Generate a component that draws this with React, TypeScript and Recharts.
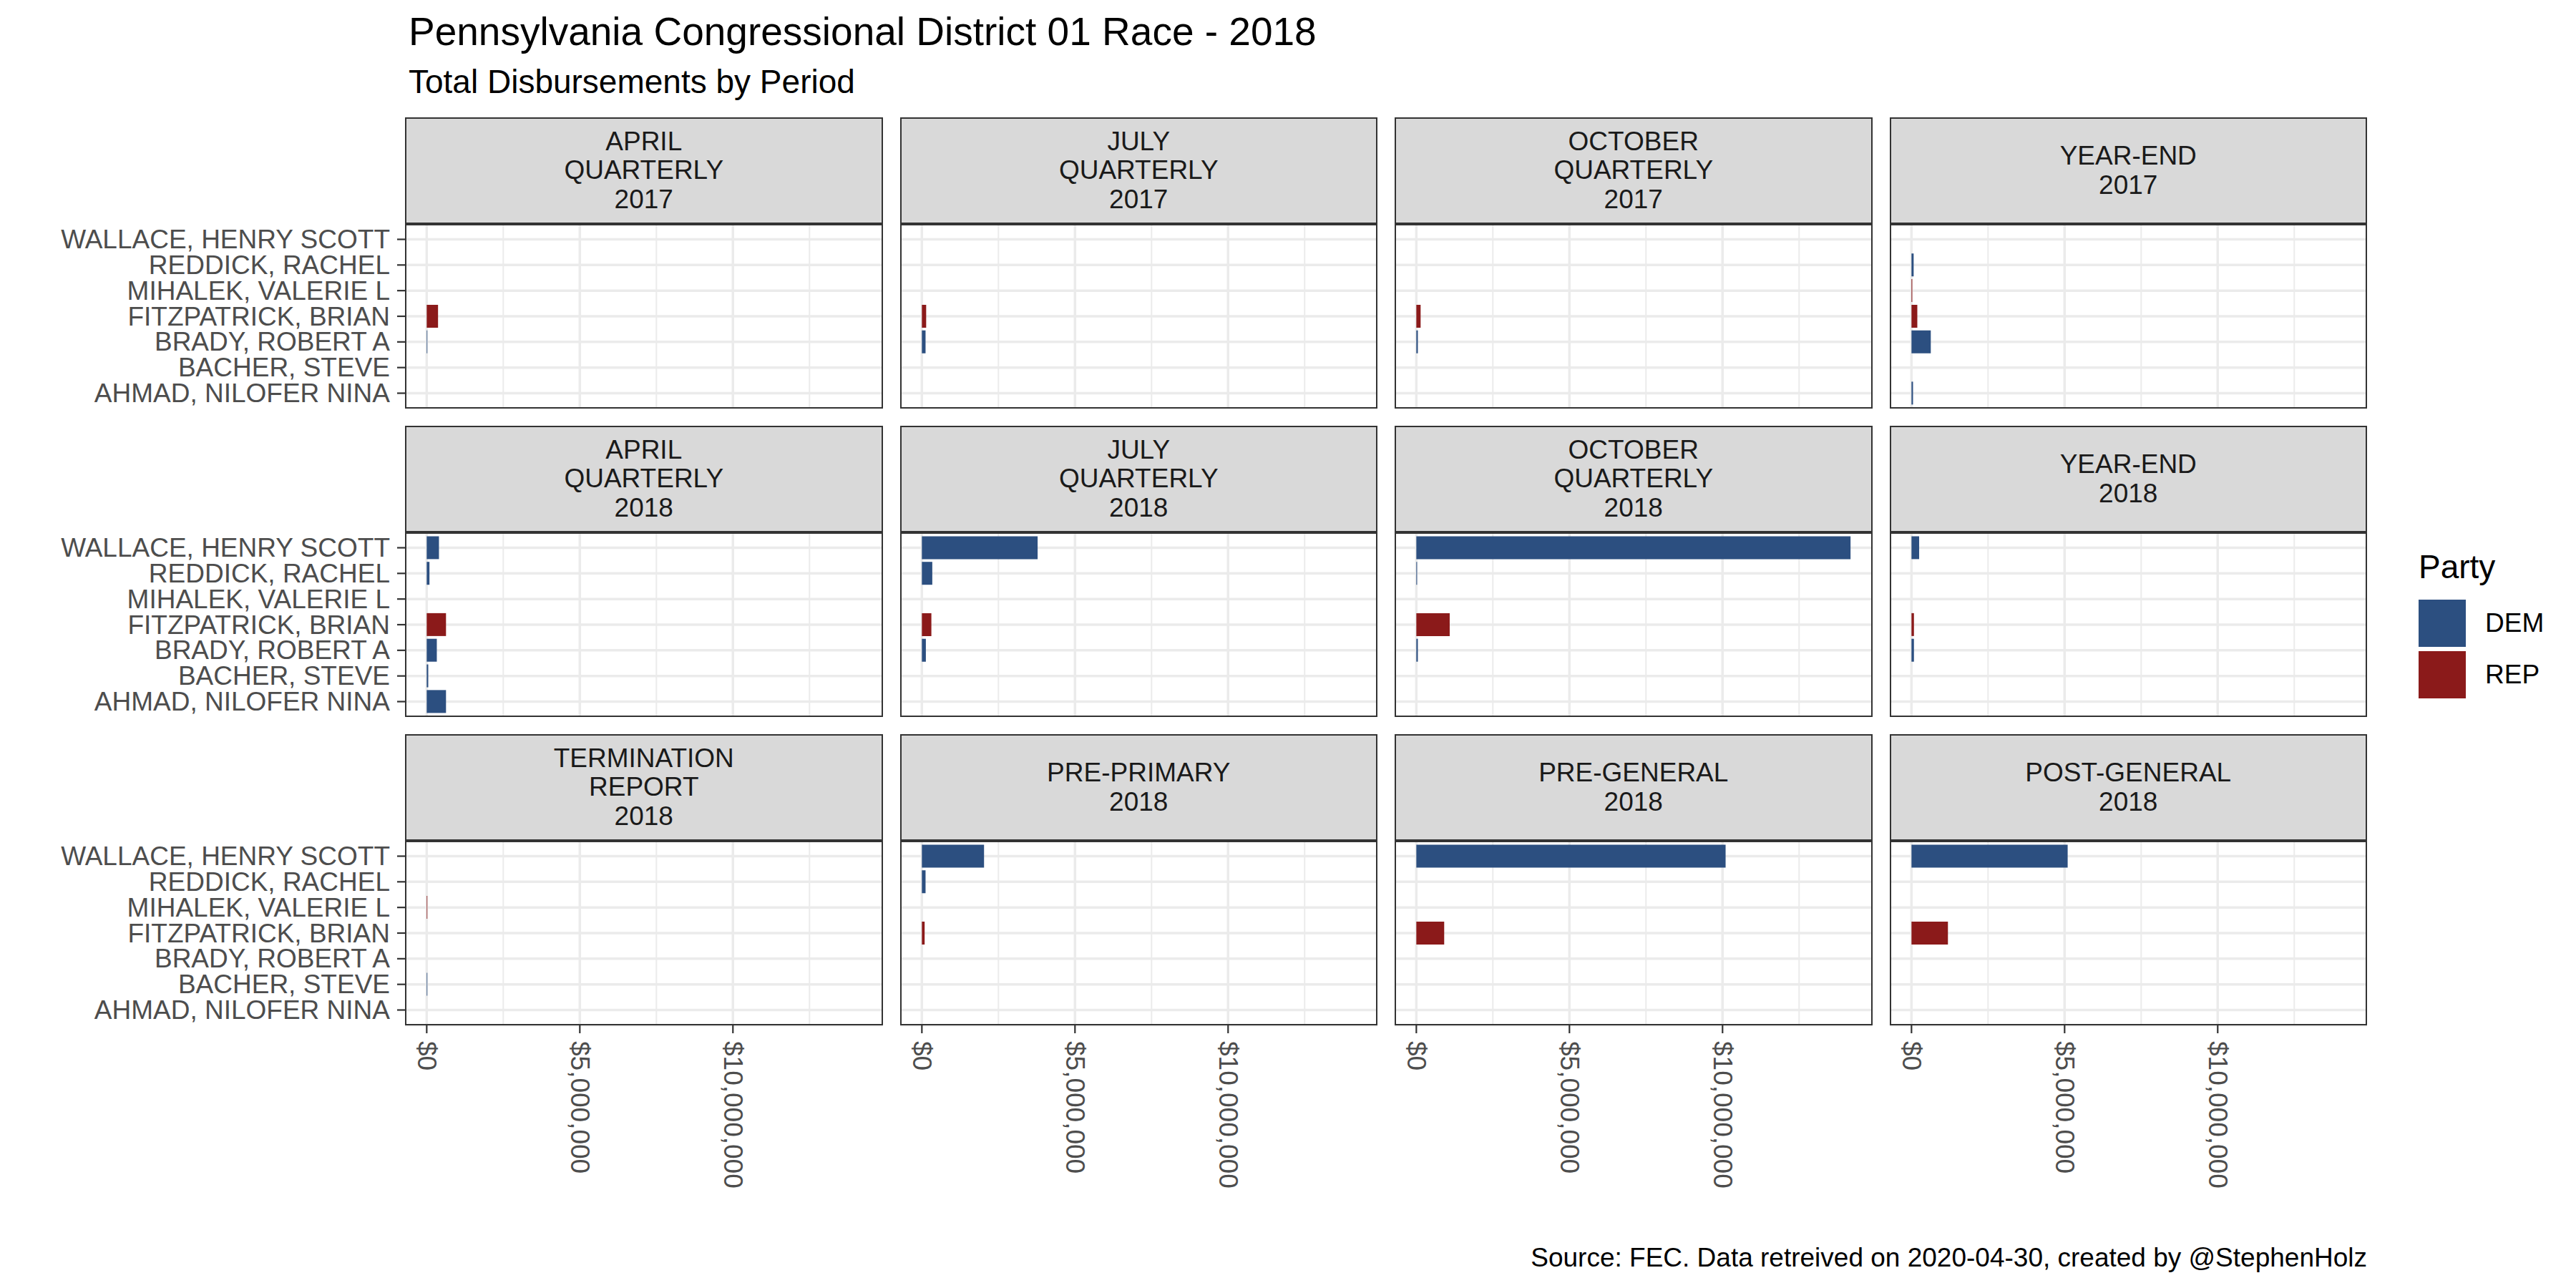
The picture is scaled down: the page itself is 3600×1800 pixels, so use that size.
import React from 'react';
import { BarChart, Bar, Cell, XAxis, YAxis, CartesianGrid } from 'recharts';

// candidates top to bottom, as they appear on the y axis
const candidates = [
  'WALLACE, HENRY SCOTT',
  'REDDICK, RACHEL',
  'MIHALEK, VALERIE L',
  'FITZPATRICK, BRIAN',
  'BRADY, ROBERT A',
  'BACHER, STEVE',
  'AHMAD, NILOFER NINA',
];
const parties = ['DEM', 'DEM', 'REP', 'REP', 'DEM', 'DEM', 'DEM'];

const periods = [
  'APRIL\nQUARTERLY\n2017', 'JULY\nQUARTERLY\n2017', 'OCTOBER\nQUARTERLY\n2017', 'YEAR-END\n2017',
  'APRIL\nQUARTERLY\n2018', 'JULY\nQUARTERLY\n2018', 'OCTOBER\nQUARTERLY\n2018', 'YEAR-END\n2018',
  'TERMINATION\nREPORT\n2018', 'PRE-PRIMARY\n2018', 'PRE-GENERAL\n2018', 'POST-GENERAL\n2018',
];

// disbursements per period, same order as candidates (null = no filing)
const aprilQ2017 = [null, null, null, 370000, 20000, null, null];
const julyQ2017 = [null, null, null, 140000, 120000, null, null];
const octoberQ2017 = [null, null, null, 140000, 50000, null, null];
const yearEnd2017 = [null, 70000, 25000, 190000, 630000, null, 50000];
const aprilQ2018 = [400000, 90000, null, 630000, 330000, 50000, 630000];
const julyQ2018 = [3780000, 340000, null, 310000, 130000, null, null];
const octoberQ2018 = [14180000, 25000, null, 1090000, 50000, null, null];
const yearEnd2018 = [250000, null, null, 80000, 80000, null, null];
const termination2018 = [null, null, 20000, null, null, 20000, null];
const prePrimary2018 = [2030000, 120000, null, 90000, null, null, null];
const preGeneral2018 = [10100000, null, null, 910000, null, null, null];
const postGeneral2018 = [5100000, null, null, 1190000, null, null, null];

const periodValues = [
  aprilQ2017, julyQ2017, octoberQ2017, yearEnd2017,
  aprilQ2018, julyQ2018, octoberQ2018, yearEnd2018,
  termination2018, prePrimary2018, preGeneral2018, postGeneral2018,
];

const xTicks = [0, 5000000, 10000000];
const minorBreaks = [2500000, 7500000, 12500000];

const partyColors: Record<string, string> = { DEM: '#2C4F80', REP: '#8B1A1A' };

const maxValue = Math.max(...periodValues.flat().map((v) => v ?? 0));
const xDomain = [-maxValue * 0.05, maxValue * 1.05];

const FONT = '"Liberation Sans", Arial, sans-serif';
const BASE = 37;
const plotLeft = 566;
const panelW = 667.5;
const colGap = 24;
const stripH = 149;
const panelH = 258;
const rowTop = [164, 595, 1026];
const bandPad = (panelH * 0.1) / 7.2;

const fmt = (v: number) => '$' + v.toLocaleString('en-US');

function YTick(props: any) {
  const { x, y, payload } = props;
  return (
    <g>
      <line x1={x - 11} x2={x} y1={y} y2={y} stroke="#333333" strokeWidth={2.2} />
      <text x={x - 21} y={y} textAnchor="end" dominantBaseline="central" fontSize={BASE} fill="#4D4D4D" fontFamily={FONT}>
        {payload.value}
      </text>
    </g>
  );
}

function XTick(props: any) {
  const { x, y, payload } = props;
  return (
    <g>
      <line x1={x} x2={x} y1={y} y2={y + 11} stroke="#333333" strokeWidth={2.2} />
      <text
        transform={`translate(${x},${y + 22}) rotate(90)`}
        textAnchor="start"
        dominantBaseline="central"
        fontSize={BASE}
        fill="#4D4D4D"
        fontFamily={FONT}
      >
        {fmt(payload.value)}
      </text>
    </g>
  );
}

function Panel({ idx }: { idx: number }) {
  const row = Math.floor(idx / 4);
  const col = idx % 4;
  const px = plotLeft + col * (panelW + colGap);
  const top = rowTop[row] + stripH;
  const showY = col === 0;
  const showX = row === 2;
  const data = candidates.map((name, i) => ({ name, value: periodValues[idx][i], party: parties[i] }));
  const yW = showY ? plotLeft : 0;
  const chartLeft = px - yW;
  const xH = showX ? 320 : 0;

  return (
    <>
      <div style={{ position: 'absolute', left: chartLeft, top }}>
        <BarChart
          width={panelW + yW}
          height={panelH + xH}
          data={data}
          layout="vertical"
          margin={{ top: 0, right: 0, bottom: 0, left: 0 }}
          barCategoryGap="5%"
        >
          <CartesianGrid horizontal={false} verticalValues={minorBreaks} stroke="#EBEBEB" strokeWidth={2} />
          <CartesianGrid verticalValues={xTicks} stroke="#EBEBEB" strokeWidth={3.5} />
          <XAxis
            type="number"
            domain={xDomain}
            allowDataOverflow
            ticks={xTicks}
            interval={0}
            hide={!showX}
            height={xH}
            axisLine={false}
            tickLine={false}
            tickSize={0}
            tickMargin={0}
            tick={<XTick />}
          />
          <YAxis
            type="category"
            dataKey="name"
            width={yW}
            hide={!showY}
            interval={0}
            padding={{ top: bandPad, bottom: bandPad }}
            axisLine={false}
            tickLine={false}
            tickSize={0}
            tickMargin={0}
            tick={<YTick />}
          />
          <Bar dataKey="value" isAnimationActive={false}>
            {data.map((d, i) => (
              <Cell key={i} fill={partyColors[d.party]} />
            ))}
          </Bar>
        </BarChart>
      </div>
      <div
        style={{
          position: 'absolute', left: px, top: rowTop[row], width: panelW, height: stripH,
          boxSizing: 'border-box', border: '2px solid #333333', background: '#D9D9D9',
          display: 'flex', flexDirection: 'column', justifyContent: 'center', alignItems: 'center',
          fontSize: BASE, color: '#1A1A1A', lineHeight: '40.5px',
        }}
      >
        {periods[idx].split('\n').map((t, k) => (
          <div key={k}>{t}</div>
        ))}
      </div>
      <div
        style={{
          position: 'absolute', left: px, top, width: panelW, height: panelH,
          boxSizing: 'border-box', border: '2px solid #333333', pointerEvents: 'none',
        }}
      />
    </>
  );
}

export default function App() {
  return (
    <div style={{ position: 'absolute', left: 0, top: 0, width: 3600, height: 1800, background: '#FFFFFF', fontFamily: FONT, overflow: 'hidden' }}>
      <div style={{ position: 'absolute', left: 571, top: 17, fontSize: 55, lineHeight: 1, color: '#000000', whiteSpace: 'nowrap' }}>
        Pennsylvania Congressional District 01 Race - 2018
      </div>
      <div style={{ position: 'absolute', left: 571, top: 91, fontSize: 46, lineHeight: 1, color: '#000000', whiteSpace: 'nowrap' }}>
        Total Disbursements by Period
      </div>

      {periods.map((_, i) => (
        <Panel key={i} idx={i} />
      ))}

      {/* legend */}
      <div style={{ position: 'absolute', left: 3380, top: 769, fontSize: 46, lineHeight: 1, color: '#000000' }}>Party</div>
      {['DEM', 'REP'].map((p, k) => (
        <div key={p} style={{ position: 'absolute', left: 3380, top: 838 + k * 72, height: 66, display: 'flex', alignItems: 'center' }}>
          <div style={{ width: 66, height: 66, background: partyColors[p] }} />
          <div style={{ marginLeft: 27, fontSize: BASE, color: '#000000' }}>{p}</div>
        </div>
      ))}

      <div style={{ position: 'absolute', right: 3600 - 3308, top: 1739, fontSize: BASE, lineHeight: 1, color: '#000000', whiteSpace: 'nowrap' }}>
        Source: FEC. Data retreived on 2020-04-30, created by @StephenHolz
      </div>
    </div>
  );
}
